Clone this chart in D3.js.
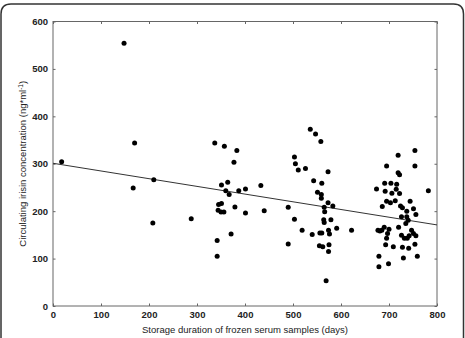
<!DOCTYPE html>
<html>
<head>
<meta charset="utf-8">
<script src="https://cdn.jsdelivr.net/npm/d3@7"></script>
<style>
  body { margin: 0; background: #fff; }
  text { font-family: Arial, "Liberation Sans", sans-serif; fill: #222; }
</style>
</head>
<body>
<svg id="chart" width="465" height="338"></svg>
<script>
// storage duration (days) and irisin (ng/ml)
const days = [
  18, 148, 170, 167, 210, 208, 288,
  337, 357, 383, 377, 351, 364, 360, 367, 387, 401, 433, 351, 345, 344, 350, 356, 379, 401, 440, 371, 342, 342,
  536, 547, 558, 503, 505, 511, 526, 573, 543, 560, 551, 559, 559, 573, 583, 565, 566, 490, 503, 564, 565, 579,
  519, 540, 556, 560, 574, 576, 591, 490, 555, 562, 575, 574, 569, 622,
  754, 719, 695, 754, 719, 722, 674, 691, 704, 716, 692, 706, 715, 722, 782, 695, 703, 713, 686, 724, 728, 744,
  737, 751, 726, 737, 740, 756, 735, 677, 681, 685, 690, 700, 697, 720, 726, 732, 738, 742, 747, 751, 756, 695,
  693, 709, 728, 741, 754, 730, 759, 679, 679, 699
];
const irisin = [
  304, 554, 344, 249, 266, 175, 184,
  344, 337, 328, 303, 255, 261, 243, 235, 243, 247, 254, 216, 214, 202, 198, 198, 209, 196, 201, 152, 138, 105,
  373, 363, 347, 314, 300, 287, 290, 283, 264, 259, 240, 235, 227, 218, 211, 208, 199, 208, 183, 182, 176, 182,
  160, 151, 154, 154, 160, 152, 164, 131, 127, 125, 129, 115, 53, 160,
  328, 318, 295, 295, 281, 277, 247, 259, 259, 257, 242, 238, 246, 237, 243, 221, 218, 222, 210, 211, 207, 221,
  200, 205, 188, 188, 181, 193, 174, 160, 158, 160, 166, 162, 153, 166, 149, 143, 143, 148, 160, 153, 148, 143,
  129, 125, 124, 122, 130, 101, 105, 105, 83, 89
];
const xTicks = [0, 100, 200, 300, 400, 500, 600, 700, 800];
const yTicks = [0, 100, 200, 300, 400, 500, 600];
// fitted line end values
const fitX = [0, 800];
const fitY = [301, 171];

const svg = d3.select("#chart");
const plotLeft = 53, plotRight = 437, plotTop = 21.5, plotBottom = 306;

const x = d3.scaleLinear().domain([0, 800]).range([plotLeft, plotRight]);
const y = d3.scaleLinear().domain([0, 600]).range([plotBottom, plotTop]);

// panel frame, rounded top corners
const r = 10;
svg.append("path")
  .attr("d", `M1,338 L1,${4 + r} Q1,4 ${1 + r},4 L${463.5 - r},4 Q463.5,4 463.5,${4 + r} L463.5,338`)
  .attr("fill", "none")
  .attr("stroke", "#333")
  .attr("stroke-width", 1.5);

// axes with inward ticks on all sides
const tickStyle = g => {
  g.select(".domain").remove();
  g.selectAll(".tick line").attr("stroke", "#666");
  g.selectAll(".tick text").attr("font-size", 9.5).attr("font-weight", "bold").attr("fill", "#222");
};
svg.append("g").attr("transform", `translate(0,${plotBottom})`)
  .call(d3.axisBottom(x).tickValues(xTicks).tickSize(-2.5).tickPadding(5))
  .call(tickStyle);
svg.append("g").attr("transform", `translate(${plotLeft},0)`)
  .call(d3.axisLeft(y).tickValues(yTicks).tickSize(-2.5).tickPadding(5))
  .call(tickStyle);
svg.append("g").attr("transform", `translate(0,${plotTop})`)
  .call(d3.axisTop(x).tickValues(xTicks).tickSize(-2.5).tickFormat(""))
  .call(tickStyle);
svg.append("g").attr("transform", `translate(${plotRight},0)`)
  .call(d3.axisRight(y).tickValues(yTicks).tickSize(-2.5).tickFormat(""))
  .call(tickStyle);

svg.append("rect")
  .attr("x", plotLeft).attr("y", plotTop)
  .attr("width", plotRight - plotLeft).attr("height", plotBottom - plotTop)
  .attr("fill", "none").attr("stroke", "#666").attr("stroke-width", 1);

// regression line
svg.append("line")
  .attr("x1", x(fitX[0])).attr("y1", y(fitY[0]))
  .attr("x2", x(fitX[1])).attr("y2", y(fitY[1]))
  .attr("stroke", "#333").attr("stroke-width", 1);

// points
svg.append("g").selectAll("circle")
  .data(days.map((d, i) => [d, irisin[i]]))
  .join("circle")
  .attr("cx", d => x(d[0]))
  .attr("cy", d => y(d[1]))
  .attr("r", 2.5)
  .attr("fill", "#000");

// axis titles
svg.append("text")
  .attr("x", (plotLeft + plotRight) / 2).attr("y", 333)
  .attr("text-anchor", "middle").attr("font-size", 9.5)
  .text("Storage duration of frozen serum samples (days)");

const yl = svg.append("text")
  .attr("transform", `translate(26,${(plotTop + plotBottom) / 2}) rotate(-90)`)
  .attr("text-anchor", "middle").attr("font-size", 9.5);
yl.append("tspan").text("Circulating irisin concentration (ng*ml");
yl.append("tspan").attr("font-size", 6.5).attr("dy", -3.5).text("-1");
yl.append("tspan").attr("dy", 3.5).text(")");
</script>
</body>
</html>
